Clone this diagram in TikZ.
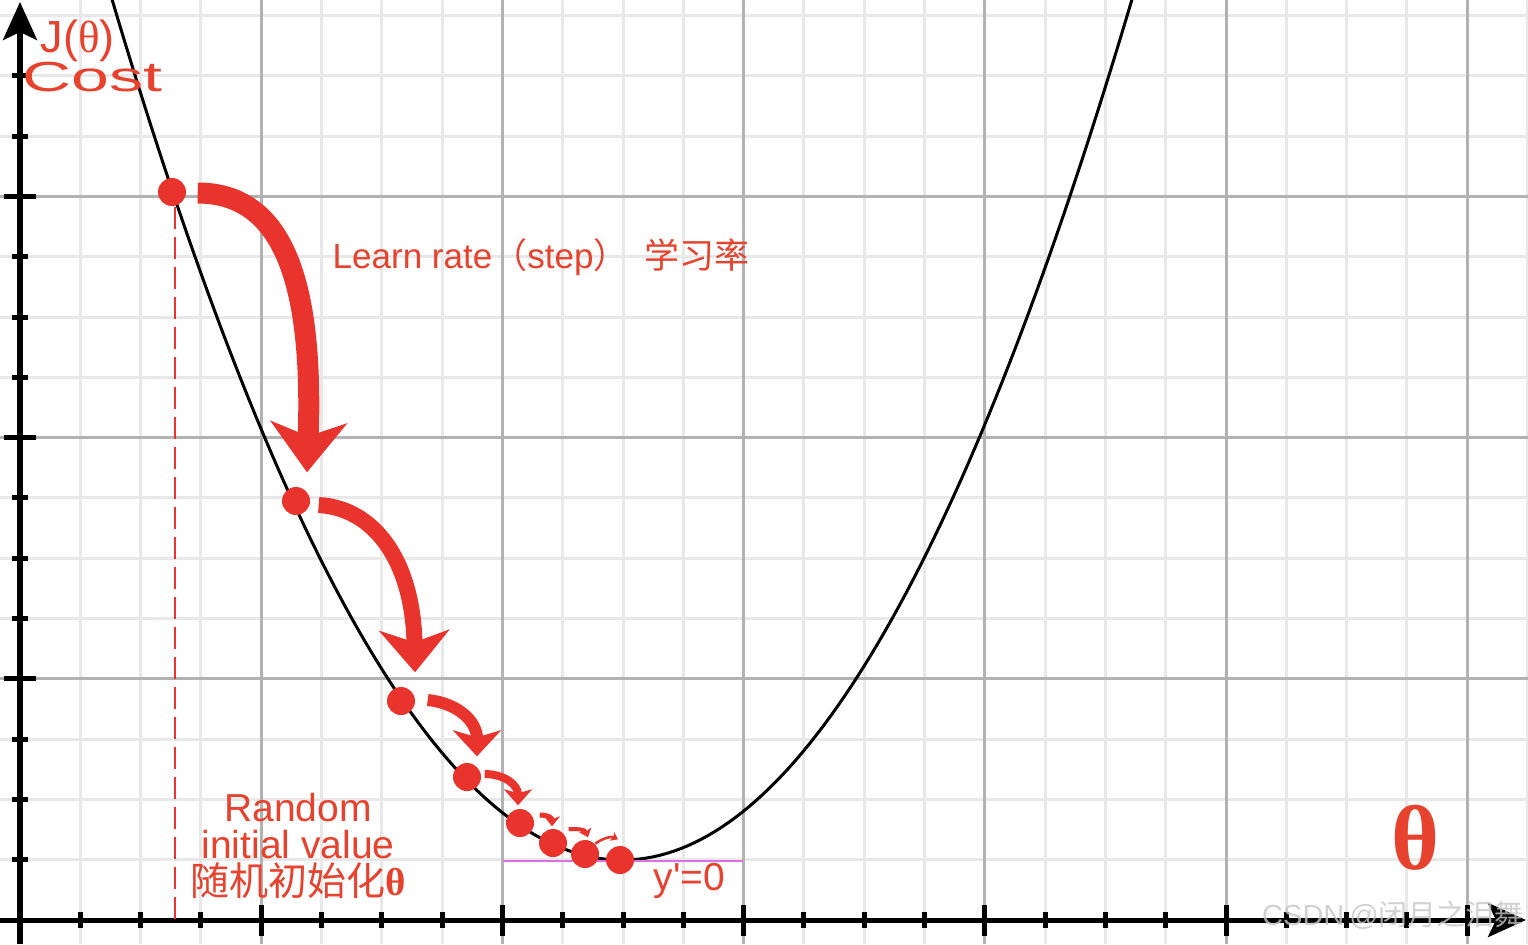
\documentclass[tikz,border=0pt]{standalone}
\usepackage{fontspec}
\setmainfont{Liberation Sans}
\newfontfamily\serifgr{Liberation Serif}
\newfontfamily\cjk{Noto Sans CJK SC}
\usetikzlibrary{arrows.meta,calc}
\definecolor{costred}{RGB}{232,52,45}
\definecolor{txtred}{RGB}{230,66,46}
\definecolor{slopeline}{RGB}{222,110,230}

\begin{document}
\begin{tikzpicture}[x=0.01cm, y=-0.01cm,
  dot/.style={circle, fill=costred, inner sep=0pt, minimum size=0.28cm},
  jump/.style={draw=costred, line cap=butt},
  lbl/.style={text=txtred, inner sep=0pt},
  axis/.style={line width=0.05cm},
  axtip/.style={-{Stealth[length=0.38cm, width=0.34cm, inset=0.08cm]}}]
  \useasboundingbox (0,0) rectangle (1528,944);
  \fill[white] (0,0) rectangle (1528,944);
  \foreach \k in {1,...,25}
    \draw[gray!18, line width=0.03cm] ({20+60.3*\k},0) -- ({20+60.3*\k},944);
  \foreach \k in {1,...,15}
    \draw[gray!18, line width=0.03cm] (0,{920-60.3*\k}) -- (1528,{920-60.3*\k});
  \foreach \k in {4,8,...,24}
    \draw[gray!60, line width=0.03cm] ({20+60.3*\k},0) -- ({20+60.3*\k},944);
  \foreach \k in {4,8,12}
    \draw[gray!60, line width=0.03cm] (0,{920-60.3*\k}) -- (1528,{920-60.3*\k});

  \draw[line width=0.03cm] plot[domain=112:1132, samples=150] (\x, {860-(0.05753*(\x-622))^2});
  \coordinate (tanL) at (503,861);
  \coordinate (tanR) at (743,861);
  \draw[slopeline, line width=0.02cm] (tanL) -- (tanR);

  \coordinate (ybot) at (20,944);
  \coordinate (ytop) at (20,2);
  \coordinate (xlft) at (0,920);
  \coordinate (xrgt) at (1526,920);
  \draw[axis, axtip] (ybot) -- (ytop);
  \draw[axis, axtip] (xlft) -- (xrgt);
  \foreach \k in {1,...,14}
    \draw[axis] (12,{920-60.3*\k}) -- (28,{920-60.3*\k});
  \foreach \k in {4,8,12}
    \draw[axis] (4,{920-60.3*\k}) -- (36,{920-60.3*\k});
  \foreach \k in {1,...,24}
    \draw[axis] ({20+60.3*\k},912) -- ({20+60.3*\k},928);
  \foreach \k in {4,8,...,24}
    \draw[axis] ({20+60.3*\k},905) -- ({20+60.3*\k},936);

  \node[dot] (p1) at (172,192) {};
  \node[dot] (p2) at (296,501) {};
  \node[dot] (p3) at (401,701) {};
  \node[dot] (p4) at (467,777) {};
  \node[dot] (p5) at (520,823) {};
  \node[dot] (p6) at (553,843) {};
  \node[dot] (p7) at (585,854) {};
  \node[dot] (p8) at (620,860) {};

  \coordinate (foot) at (175,920);
  \draw[costred, line width=0.02cm, dash pattern=on 0.22cm off 0.08cm] ($(p1.south)+(3,0)$) -- (foot);

  \draw[jump, line width=0.21cm, -{Stealth[length=0.5cm, width=0.76cm, inset=0.14cm]}]
    ($(p1.east)+(11,1)$) .. controls +(93,0) and +(6,-173) .. ($(p2.north)+(11,-14)$);
  \draw[jump, line width=0.16cm, -{Stealth[length=0.42cm, width=0.7cm, inset=0.12cm]}]
    ($(p2.east)+(8,4)$) .. controls +(55,3) and +(-2,-112) .. ($(p3.north)+(14,-14)$);
  \draw[jump, line width=0.12cm, -{Stealth[length=0.26cm, width=0.48cm, inset=0.07cm]}]
    ($(p3.east)+(12,-1)$) .. controls +(30,3) and +(0,-35) .. ($(p4.north)+(10,-6)$);
  \draw[jump, line width=0.08cm, -{Stealth[length=0.16cm, width=0.28cm, inset=0.04cm]}]
    ($(p4.east)+(3,-3)$) .. controls +(20,0) and +(0,-20) .. ($(p5.north)+(-2,-3)$);
  \draw[jump, line width=0.05cm, -{Stealth[length=0.1cm, width=0.16cm, inset=0.03cm]}]
    ($(p5.east)+(5,-8)$) .. controls +(9,0) and +(0,-8) .. ($(p6.north)+(-1,-2)$);
  \draw[jump, line width=0.04cm, -{Stealth[length=0.08cm, width=0.13cm, inset=0.02cm]}]
    ($(p6.east)+(1,-14)$) .. controls +(10,0) and +(-3,-8) .. ($(p7.north)+(3,-2)$);
  \draw[jump, line width=0.025cm, -{Stealth[length=0.07cm, width=0.1cm, inset=0.02cm]}]
    (p7.north east) .. controls +(8,-6) and +(-6,-3) .. ($(p8.north)+(-2,-6)$);

  \node[lbl, anchor=base west, font=\fontsize{0.45cm}{0.45cm}\selectfont] (jlab) at (40,52)
    {J({\serifgr θ})};
  \node[lbl, anchor=base west] (cost) at (22,91)
    {\scalebox{1.62}[1]{\fontsize{0.42cm}{0.42cm}\selectfont Cost}};
  \node[lbl, anchor=base west, font=\fontsize{0.35cm}{0.4cm}\selectfont] (rate) at (332,268)
    {Learn rate{\cjk （}step{\cjk ）}\hspace{0.45em}{\cjk 学习率}};
  \node[lbl, align=center, font=\fontsize{0.39cm}{0.37cm}\selectfont] (init) at (298,846)
    {Random\\initial value\\{\cjk 随机初始化}{\serifgr\bfseries θ}};
  \node[lbl, anchor=base west, font=\fontsize{0.39cm}{0.4cm}\selectfont] (slope) at (653,890)
    {y\textquotesingle=0};
  \node[lbl, font=\serifgr\bfseries\fontsize{0.92cm}{0.92cm}\selectfont] (theta) at (1415,838) {θ};
  \node[text=gray!45, opacity=0.8, font=\fontsize{0.29cm}{0.3cm}\selectfont] (mark) at (1393,915)
    {CSDN\,@{\cjk 闭月之泪舞}};
\end{tikzpicture}
\end{document}
